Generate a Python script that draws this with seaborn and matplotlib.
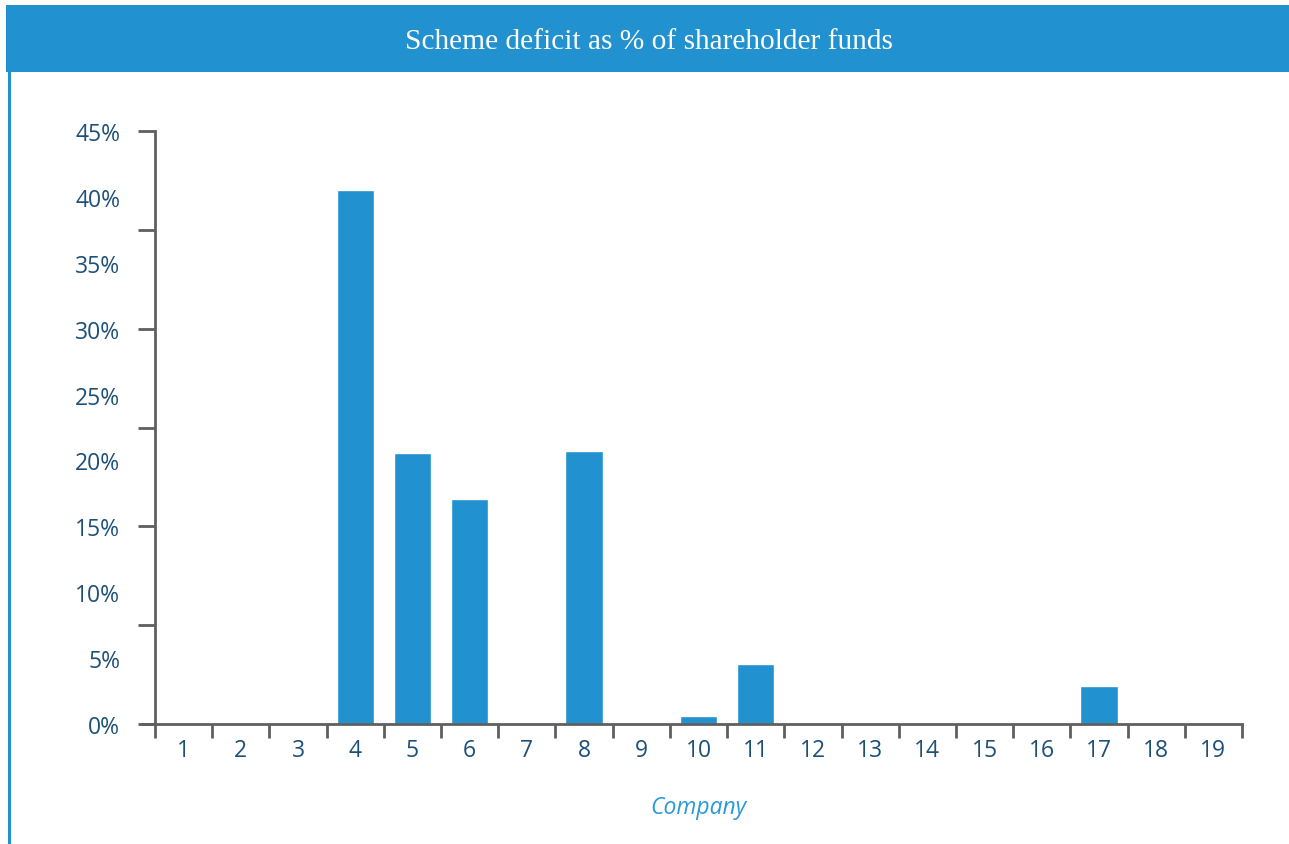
import matplotlib
matplotlib.use("Agg")
import matplotlib.pyplot as plt
from matplotlib.patches import Rectangle
from matplotlib.lines import Line2D
from matplotlib.ticker import FuncFormatter, MultipleLocator
import seaborn as sns
import pandas as pd

# Scheme deficit by company, as a percentage of shareholder funds
companies = [str(i) for i in range(1, 20)]
deficit_pct = [0, 0, 0, 40.5, 20.6, 17.1, 0, 20.7, 0, 0.6, 4.55, 0, 0, 0, 0, 0, 2.9, 0, 0]
y_tick_values = [0, 5, 10, 15, 20, 25, 30, 35, 40, 45]

title_text = "Scheme deficit as % of shareholder funds"
x_label = "Company"

BLUE = "#2291d0"
AXIS_GREY = "#5f5f5f"
LABEL_NAVY = "#1d5078"
LABEL_BLUE = "#2a9ad6"

df = pd.DataFrame({"company": companies, "deficit": deficit_pct})

sns.set_theme(style="white")
plt.rcParams["font.family"] = ["Open Sans", "DejaVu Sans"]

fig = plt.figure(figsize=(12.89, 8.45), dpi=100)
W, H = 1289, 845

# Header band and left rule
fig.patches.append(Rectangle((6 / W, 1 - 73 / H), 1 - 6 / W, 67 / H,
                             transform=fig.transFigure, facecolor=BLUE,
                             edgecolor="none", zorder=0))
fig.lines.append(Line2D([9 / W, 9 / W], [0, 1 - 73 / H], transform=fig.transFigure,
                        color=BLUE, linewidth=2.2))
fig.text(649 / W, 1 - 42 / H, title_text, color="white", ha="center", va="center",
         fontsize=21.2, family=["Liberation Serif", "DejaVu Serif"])

ax = fig.add_axes([155 / W, 1 - 725 / H, 1087 / W, 593 / H])
sns.barplot(data=df, x="company", y="deficit", color=BLUE, width=0.65,
            saturation=1, ax=ax, zorder=3)

ax.set_xlim(-0.5, len(companies) - 0.5)
ax.set_ylim(0, 45)

for side in ("top", "right"):
    ax.spines[side].set_visible(False)
for side in ("left", "bottom"):
    ax.spines[side].set_color(AXIS_GREY)
    ax.spines[side].set_linewidth(2.0)
    ax.spines[side].set_zorder(4)

# y labels every 5%, tick marks every 7.5%
ax.set_yticks(y_tick_values)
ax.yaxis.set_major_formatter(FuncFormatter(lambda v, _: f"{v:.0f}%"))
ax.yaxis.set_minor_locator(MultipleLocator(7.5))
ax.yaxis.remove_overlapping_locs = False
ax.tick_params(axis="y", which="major", length=0, pad=25, labelsize=16.5,
               labelcolor=LABEL_NAVY)
ax.tick_params(axis="y", which="minor", length=12, width=2.0, color=AXIS_GREY,
               left=True)

# x labels centred on bars, tick marks at category boundaries
ax.xaxis.set_minor_locator(MultipleLocator(1, offset=0.5))
ax.tick_params(axis="x", which="major", length=0, pad=10, labelsize=16.5,
               labelcolor=LABEL_NAVY)
ax.tick_params(axis="x", which="minor", length=10, width=2.0, color=AXIS_GREY,
               bottom=True)

# short stub on the zero line, left of the axis
ax.plot([-0.5 - 14 / 57.2, -0.5], [0, 0], color=AXIS_GREY, linewidth=2.0,
        clip_on=False, zorder=4, solid_capstyle="butt")

ax.set_xlabel(x_label, fontsize=16.5, style="italic", color=LABEL_BLUE, labelpad=24)
ax.set_ylabel("")

fig.savefig("out.png", dpi=100, facecolor="white")
